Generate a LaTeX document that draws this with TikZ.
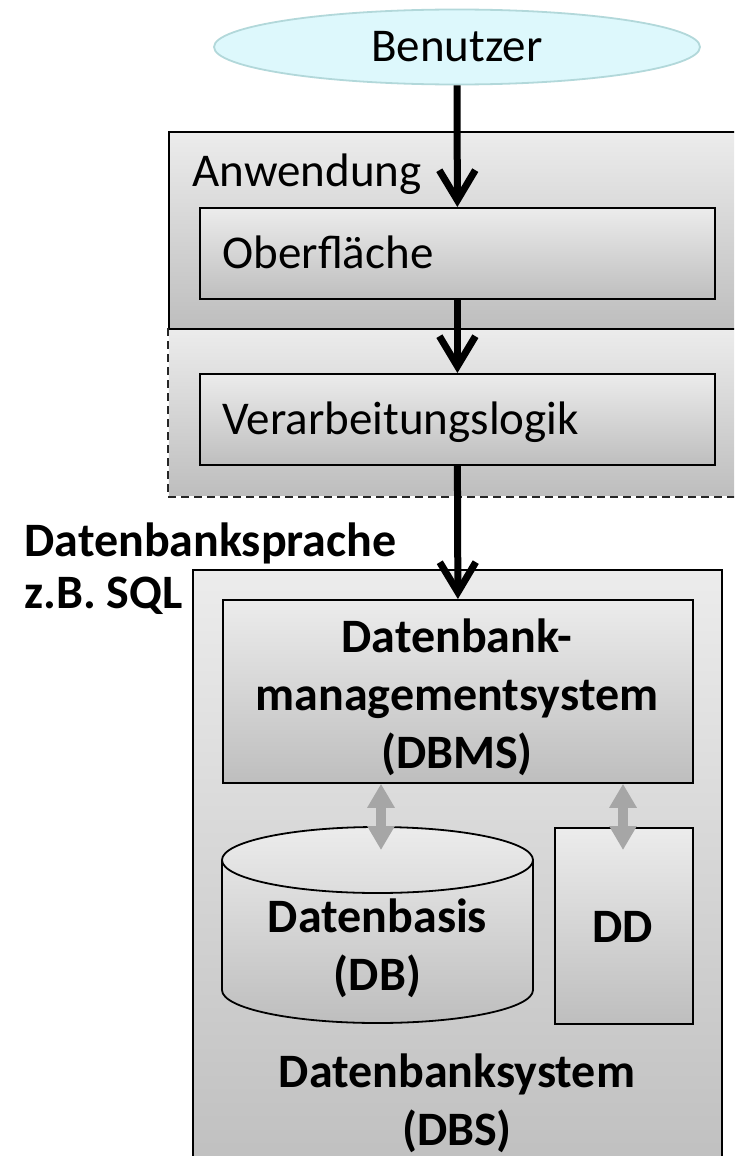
\documentclass[tikz,border=0pt]{standalone}
\usepackage{fontspec}
\setmainfont{Carlito}
\usetikzlibrary{arrows.meta,shapes.geometric}

\definecolor{userfill}{HTML}{DDF8FC}
\definecolor{userline}{HTML}{B2D8DA}
\definecolor{gtop}{HTML}{ECECEC}
\definecolor{gbot}{HTML}{BEBEBE}
\definecolor{linkgray}{HTML}{A6A6A6}

\begin{document}
\begin{tikzpicture}[x=1pt,y=-1pt,
  regular/.style={font=\fontsize{47}{56}\selectfont},
  strong/.style={font=\fontsize{48}{58}\selectfont\bfseries, align=center},
  panel/.style={draw=black, line width=1.8pt, top color=gtop, bottom color=gbot,
                inner sep=0pt, anchor=north west},
  flow/.style={line width=7pt, -{Straight Barb[length=30pt,width=36pt]}},
  link/.style={draw=linkgray, line width=10pt,
               {Triangle[length=24pt,width=26pt]}-{Triangle[length=24pt,width=26pt]}},
  dashline/.style={draw=black!85, line width=1.8pt, dash pattern=on 8pt off 5pt}]

\useasboundingbox (0,0) rectangle (734,1156);
\clip (0,0) rectangle (734,1156);

% user
\node[ellipse, draw=userline, line width=1.8pt, fill=userfill,
      minimum width=486pt, minimum height=75pt, inner sep=0pt, regular]
      (user) at (457,47) {Benutzer};

% application layer: processing part (dashed) and interface part (solid)
\node[panel, draw=none, minimum width=600pt, minimum height=167pt] (logicframe) at (168,328) {};
\node[panel, minimum width=600pt, minimum height=197pt] (appframe) at (168,131) {};
\draw[dashline] (logicframe.north west) -- (logicframe.south west) -- (logicframe.south east);
\node[regular, anchor=base west] (applabel) at (189,186) {Anwendung};

\node[panel, minimum width=515pt, minimum height=91pt] (ober) at (199,207) {};
\node[regular, anchor=base west] (oberlabel) at (219,268) {Oberfläche};

\node[panel, minimum width=515pt, minimum height=91pt] (verarb) at (199,373) {};
\node[regular, anchor=base west] (verarblabel) at (219,434) {Verarbeitungslogik};

% query language
\node[font=\fontsize{48}{58}\selectfont\bfseries, anchor=base west] (lang) at (21,556) {Datenbanksprache};
\node[font=\fontsize{48}{58}\selectfont\bfseries, anchor=base west] (sql) at (21,608) {z.B. SQL};

% database system
\node[panel, minimum width=529pt, minimum height=620pt] (dbs) at (192,569) {};
\node[panel, minimum width=470pt, minimum height=183pt] (dbms) at (222,599) {};
\node[strong] (dbmslabel) at (457,697) {Datenbank-\\managementsystem\\(DBMS)};

% database (cylinder)
\fill[top color=gtop, bottom color=gbot]
  (222,860) -- (222,990) arc[start angle=180, end angle=360, x radius=155.5pt, y radius=33pt]
  -- (533,860) arc[start angle=0, end angle=180, x radius=155.5pt, y radius=33pt] -- cycle;
\draw[line width=1.8pt]
  (222,860) -- (222,990) arc[start angle=180, end angle=360, x radius=155.5pt, y radius=33pt]
  -- (533,860);
\draw[line width=1.8pt] (377.5,860) ellipse [x radius=155.5pt, y radius=33pt];
\node[strong] (db) at (377.5,948) {Datenbasis\\(DB)};
\coordinate (dbtop) at (381,850);

% data dictionary
\node[panel, minimum width=138pt, minimum height=196pt] (dd) at (554,827) {};
\node[font=\fontsize{48}{58}\selectfont\bfseries, anchor=base] (ddlabel) at (623,942) {DD};
\coordinate (ddtop) at (623,850);

\node[strong] (dbslabel) at (457,1103) {Datenbanksystem\\(DBS)};

% connectors
\draw[flow] (user.south) -- (ober.north);
\draw[flow] (ober.south) -- (verarb.north);
\draw[flow] (verarb.south) -- (dbms.north);
\draw[link] (dbms.south -| dbtop) -- (dbtop);
\draw[link] (dbms.south -| ddtop) -- (ddtop);
\end{tikzpicture}
\end{document}
